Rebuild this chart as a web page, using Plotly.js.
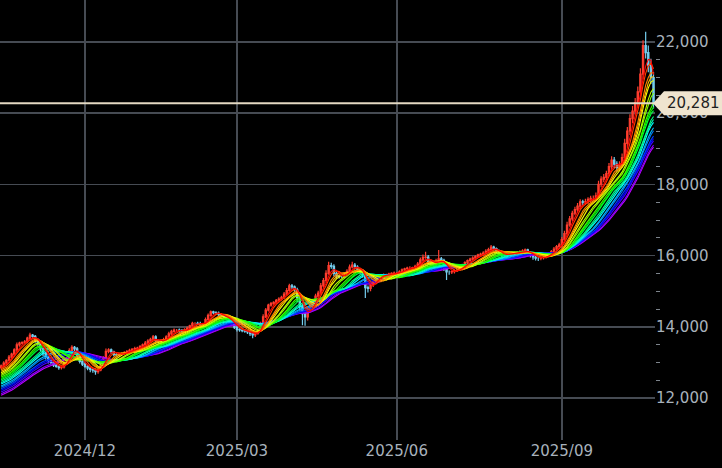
<!DOCTYPE html>
<html>
<head>
<meta charset="utf-8">
<script src="https://cdn.plot.ly/plotly-3.0.1.min.js"></script>
<style>html,body{margin:0;padding:0;background:#000;}#chart{width:722px;height:468px;}</style>
</head>
<body>
<div id="chart"></div>
<script>
// Daily closes (trading-day index 0..249, mid-Oct 2024 to mid-Oct 2025)
var closes = [
12900,12980,13060,13150,13230,13350,13490,13540,13560,13580,
13680,13770,13730,13620,13520,13380,13250,13150,13060,13000,
12920,12890,12850,12870,12980,13100,13330,13420,13380,13160,
13030,12950,12890,12840,12800,12780,12740,12790,12920,13120,
13310,13350,13300,13220,13210,13230,13250,13270,13300,13340,
13370,13390,13400,13450,13490,13540,13600,13650,13720,13610,
13580,13610,13640,13720,13800,13870,13910,13910,13890,13860,
13920,13960,14030,14100,14100,14090,14060,14060,14200,14320,
14420,14400,14380,14340,14320,14290,14250,14160,14080,13990,
13930,13910,13890,13880,13860,13810,13770,13820,13900,14080,
14280,14470,14610,14650,14690,14740,14780,14830,14920,15020,
15150,15120,15040,14820,14580,14370,14280,14500,14600,14700,
14860,14950,15150,15300,15500,15720,15700,15500,15420,15410,
15410,15480,15560,15680,15730,15680,15600,15550,15470,15100,
15080,15180,15270,15370,15420,15450,15460,15460,15480,15500,
15510,15510,15540,15600,15630,15650,15650,15660,15700,15760,
15880,15950,15960,15830,15780,15740,15850,15910,15870,15720,
15540,15540,15550,15580,15600,15650,15720,15800,15860,15900,
15930,15970,16020,16040,16070,16120,16170,16240,16200,16130,
16040,16020,16020,16040,16070,16070,16070,16090,16110,16130,
16160,16080,16010,15960,15930,15930,15940,15960,15990,16050,
16110,16180,16250,16300,16450,16620,16860,17030,17190,17290,
17390,17510,17500,17520,17580,17610,17610,17680,18000,18150,
18200,18300,18500,18680,18570,18480,18550,18750,19150,19500,
19850,20060,20300,20600,21100,21900,21700,21350,21000,20281
];
var firstOpen = 12850;
// Upper / lower shadow lengths beyond the body
var upWick = [
40,50,30,60,40,50,70,40,30,50, 40,60,30,40,50,30,40,50,30,40,
30,50,40,30,60,50,70,60,40,50, 40,30,50,40,30,40,50,30,60,50,
80,50,40,30,40,50,30,40,50,40, 30,50,40,30,40,60,50,40,50,40,
30,40,50,40,60,50,40,30,40,50, 40,50,30,40,30,40,50,40,60,50,
40,30,40,50,30,40,30,50,40,30, 40,30,50,40,30,40,30,50,40,60,
70,60,40,50,30,40,50,40,60,70, 60,50,40,60,80,70,60,80,50,60,
70,60,80,70,90,110,80,60,50,40, 50,40,60,70,100,60,50,40,60,80,
60,50,40,50,40,30,40,30,40,30, 40,30,50,40,30,40,50,30,40,60,
70,80,150,60,50,40,60,250,50,40, 50,40,30,40,30,40,50,40,30,40,
50,40,30,40,50,60,50,60,40,30, 40,30,40,30,40,30,40,30,40,50,
40,30,40,30,40,30,40,30,50,40, 50,60,50,60,70,80,90,80,70,80,
90,70,60,80,60,70,80,90,100,80, 90,80,100,110,90,80,100,120,130,110,
120,140,130,150,160,150,390,200,180,160
];
var downWick = [
50,40,60,30,50,40,60,50,40,30, 40,50,60,70,50,60,80,70,90,60,
50,40,60,50,40,30,50,40,60,70, 60,50,40,60,80,70,90,60,40,50,
40,50,60,50,40,30,40,30,50,40, 30,40,50,40,30,40,50,40,30,60,
50,40,30,40,50,30,40,50,60,40, 30,40,30,40,50,40,60,50,40,30,
40,50,40,60,50,40,60,70,60,50, 60,50,40,50,60,70,90,60,40,30,
40,30,40,50,30,40,30,40,50,40, 50,60,70,120,150,330,250,100,60,50,
40,50,40,50,60,40,70,80,60,50, 40,50,40,30,40,60,70,80,90,290,
120,80,60,50,40,50,40,30,40,50, 30,40,30,40,50,30,40,50,30,40,
40,50,40,70,60,50,40,60,90,150, 225,80,60,50,40,30,40,30,40,30,
40,30,40,30,40,30,40,50,60,70, 60,50,40,30,40,50,40,30,40,30,
50,70,60,80,70,80,60,50,40,30, 40,30,50,40,50,40,60,50,70,60,
70,80,90,70,80,90,80,60,70,80, 90,80,70,100,110,120,90,80,100,120,
110,130,120,140,130,150,160,200,180,150
];
// Rainbow simple moving averages: periods and their values at the left edge
var maPeriods = [4,5,7,8,9,11,12,14,15,16,18,19,20,22,23,25,26,27,29,30];
var maSeeds = [12860,12830,12790,12750,12710,12670,12630,12590,12550,12510,12470,12430,12390,12340,12300,12260,12220,12170,12120,12080];
// X tick labels and the trading-day index of each month's first session
var tickLabels = ['2024/12','2025/03','2025/06','2025/09'];
var tickIndex = [32, 90, 151, 214];
var lastPrice = 20281;

var n = closes.length;
var xs = [], opens = [], highs = [], lows = [];
for (var i = 0; i < n; i++) {
  xs.push(i);
  var o = i === 0 ? firstOpen : closes[i-1];
  opens.push(o);
  highs.push(Math.max(o, closes[i]) + upWick[i]);
  lows.push(Math.min(o, closes[i]) - downWick[i]);
}

var traces = [];
for (var k = maPeriods.length - 1; k >= 0; k--) {
  var p = maPeriods[k];
  // sessions before the window are represented by one level that makes the average start at its seed
  var pre = (p * maSeeds[k] - closes[0]) / (p - 1);
  var buf = [];
  for (var b = 0; b < p - 1; b++) buf.push(pre);
  buf = buf.concat(closes);
  var ys = [], s = 0;
  for (var j = 0; j < buf.length; j++) {
    s += buf[j];
    if (j >= p) s -= buf[j - p];
    if (j >= p - 1) ys.push(s / p);
  }
  var hue = Math.round(285 * k / (maPeriods.length - 1));
  traces.push({type:'scatter', mode:'lines', x:xs, y:ys, hoverinfo:'skip',
    line:{color:'hsl(' + hue + ',100%,50%)', width:1.1}});
}
traces.push({type:'candlestick', x:xs, open:opens, high:highs, low:lows, close:closes,
  hoverinfo:'skip',
  increasing:{line:{color:'#ff3d2e', width:1.2}, fillcolor:'#ff3d2e'},
  decreasing:{line:{color:'#74cdee', width:1.2}, fillcolor:'#74cdee'}});

// minor y ticks every 500 between the labelled 12,000 and 22,000
var minorVals = [];
for (var mv = 12500; mv < 22000; mv += 500) { if (mv % 2000 !== 0) minorVals.push(mv); }

var grid = '#464b53';
var layout = {
  width:722, height:468,
  margin:{l:0, r:67, t:0, b:28, pad:0},
  paper_bgcolor:'#000', plot_bgcolor:'#000',
  showlegend:false,
  font:{family:'DejaVu Sans', size:15, color:'#a8b2bc'},
  xaxis:{type:'linear', range:[-0.44, 249.56], tickmode:'array', tickvals:tickIndex, ticktext:tickLabels,
    showgrid:true, gridcolor:grid, gridwidth:1.5, zeroline:false, showline:false, ticks:'',
    tickfont:{size:15, color:'#a8b2bc'}, rangeslider:{visible:false}, fixedrange:true},
  yaxis:{side:'right', range:[10820, 23180], tick0:0, dtick:2000, tickformat:',d',
    showgrid:true, gridcolor:grid, gridwidth:1.5, zeroline:false, showline:false, ticks:'',
    tickfont:{size:15, color:'#a8b2bc'},
    minor:{tickmode:'array', tickvals:minorVals, ticks:'outside', ticklen:4, tickcolor:'#7d848c', tickwidth:1, showgrid:false},
    fixedrange:true},
  shapes:[
    {type:'line', xref:'paper', yref:'y', x0:0, x1:1, y0:lastPrice, y1:lastPrice,
      line:{color:'#e4d9c3', width:2}, layer:'above'},
    {type:'path', xref:'paper', yref:'y', xsizemode:'pixel', ysizemode:'pixel',
      xanchor:1, yanchor:lastPrice, path:'M -2,0 L 9,-12 L 67,-12 L 67,12 L 9,12 Z',
      fillcolor:'#efe4cf', line:{width:0}, layer:'above'}
  ],
  annotations:[
    {xref:'paper', yref:'y', x:1, y:lastPrice, xanchor:'center', yanchor:'middle', xshift:38,
      text:'20,281', showarrow:false, font:{family:'DejaVu Sans', size:15, color:'#1e1e1e'}}
  ]
};
Plotly.newPlot('chart', traces, layout, {displayModeBar:false, staticPlot:true});
</script>
</body>
</html>
